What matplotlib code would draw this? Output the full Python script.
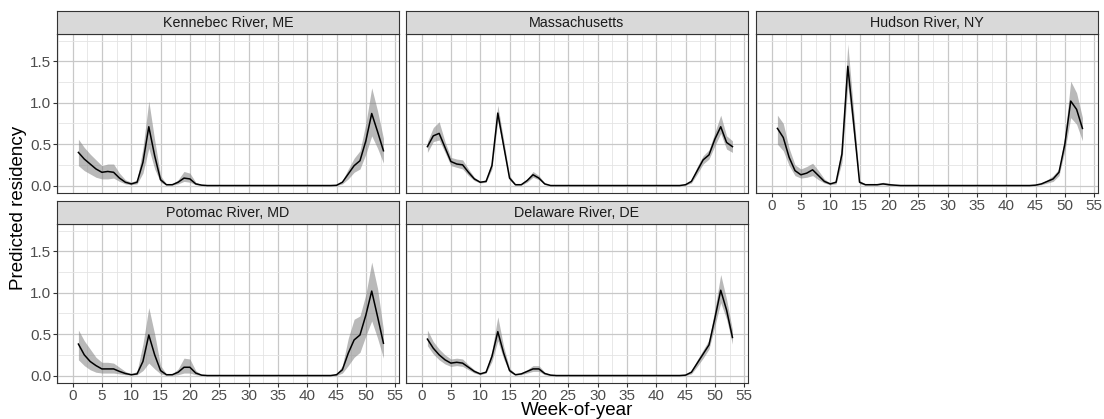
import matplotlib
matplotlib.use('Agg')
from matplotlib import pyplot as plt
from matplotlib.ticker import MultipleLocator

plt.rcParams['font.family'] = ['Liberation Sans', 'DejaVu Sans']

weeks = list(range(1, 54))

sites = ['Kennebec River, ME', 'Massachusetts', 'Hudson River, NY',
         'Potomac River, MD', 'Delaware River, DE']

# predicted residency, weeks 1-53
kennebec_fit = [0.40, 0.32, 0.26, 0.20, 0.16, 0.17, 0.16, 0.09, 0.04, 0.02, 0.04, 0.28, 0.71,
                0.36, 0.07, 0.01, 0.01, 0.04, 0.09, 0.08, 0.02, 0.005, 0.0, 0.0, 0.0, 0.0,
                0.0, 0.0, 0.0, 0.0, 0.0, 0.0, 0.0, 0.0, 0.0, 0.0, 0.0, 0.0, 0.0, 0.0,
                0.0, 0.0, 0.0, 0.0, 0.003, 0.04, 0.14, 0.24, 0.30, 0.54, 0.87, 0.65, 0.42]
kennebec_lo = [0.24, 0.18, 0.14, 0.10, 0.08, 0.08, 0.09, 0.05, 0.02, 0.01, 0.02, 0.15, 0.45,
               0.20, 0.04, 0.005, 0.005, 0.02, 0.05, 0.04, 0.01, 0.0, 0.0, 0.0, 0.0, 0.0,
               0.0, 0.0, 0.0, 0.0, 0.0, 0.0, 0.0, 0.0, 0.0, 0.0, 0.0, 0.0, 0.0, 0.0,
               0.0, 0.0, 0.0, 0.0, 0.0, 0.02, 0.08, 0.16, 0.20, 0.38, 0.60, 0.45, 0.27]
kennebec_hi = [0.56, 0.46, 0.38, 0.31, 0.24, 0.26, 0.26, 0.15, 0.07, 0.04, 0.07, 0.45, 1.02,
               0.55, 0.12, 0.02, 0.02, 0.07, 0.17, 0.15, 0.04, 0.01, 0.0, 0.0, 0.0, 0.0,
               0.0, 0.0, 0.0, 0.0, 0.0, 0.0, 0.0, 0.0, 0.0, 0.0, 0.0, 0.0, 0.0, 0.0,
               0.0, 0.0, 0.0, 0.0, 0.01, 0.06, 0.20, 0.33, 0.42, 0.75, 1.18, 0.90, 0.57]

mass_fit = [0.47, 0.60, 0.63, 0.46, 0.29, 0.26, 0.25, 0.16, 0.08, 0.04, 0.05, 0.24, 0.875,
            0.48, 0.09, 0.01, 0.01, 0.06, 0.13, 0.09, 0.02, 0.0, 0.0, 0.0, 0.0, 0.0,
            0.0, 0.0, 0.0, 0.0, 0.0, 0.0, 0.0, 0.0, 0.0, 0.0, 0.0, 0.0, 0.0, 0.0,
            0.0, 0.0, 0.0, 0.0, 0.01, 0.05, 0.18, 0.31, 0.37, 0.56, 0.71, 0.52, 0.47]
mass_lo = [0.40, 0.53, 0.55, 0.40, 0.24, 0.22, 0.20, 0.12, 0.06, 0.03, 0.04, 0.20, 0.78,
           0.42, 0.07, 0.005, 0.005, 0.04, 0.10, 0.07, 0.01, 0.0, 0.0, 0.0, 0.0, 0.0,
           0.0, 0.0, 0.0, 0.0, 0.0, 0.0, 0.0, 0.0, 0.0, 0.0, 0.0, 0.0, 0.0, 0.0,
           0.0, 0.0, 0.0, 0.0, 0.005, 0.03, 0.14, 0.26, 0.32, 0.48, 0.63, 0.44, 0.40]
mass_hi = [0.53, 0.70, 0.77, 0.53, 0.34, 0.32, 0.31, 0.20, 0.10, 0.05, 0.07, 0.30, 0.97,
           0.55, 0.12, 0.02, 0.02, 0.08, 0.17, 0.12, 0.03, 0.005, 0.0, 0.0, 0.0, 0.0,
           0.0, 0.0, 0.0, 0.0, 0.0, 0.0, 0.0, 0.0, 0.0, 0.0, 0.0, 0.0, 0.0, 0.0,
           0.0, 0.0, 0.0, 0.0, 0.015, 0.07, 0.23, 0.36, 0.43, 0.64, 0.85, 0.60, 0.54]

hudson_fit = [0.69, 0.58, 0.34, 0.18, 0.13, 0.15, 0.19, 0.12, 0.05, 0.02, 0.04, 0.38, 1.44,
              0.75, 0.04, 0.01, 0.01, 0.01, 0.02, 0.01, 0.005, 0.0, 0.0, 0.0, 0.0, 0.0,
              0.0, 0.0, 0.0, 0.0, 0.0, 0.0, 0.0, 0.0, 0.0, 0.0, 0.0, 0.0, 0.0, 0.0,
              0.0, 0.0, 0.0, 0.0, 0.005, 0.02, 0.05, 0.08, 0.16, 0.50, 1.02, 0.92, 0.69]
hudson_lo = [0.50, 0.42, 0.24, 0.12, 0.09, 0.10, 0.12, 0.07, 0.03, 0.01, 0.02, 0.28, 1.21,
             0.60, 0.02, 0.005, 0.005, 0.005, 0.01, 0.005, 0.0, 0.0, 0.0, 0.0, 0.0, 0.0,
             0.0, 0.0, 0.0, 0.0, 0.0, 0.0, 0.0, 0.0, 0.0, 0.0, 0.0, 0.0, 0.0, 0.0,
             0.0, 0.0, 0.0, 0.0, 0.0, 0.01, 0.03, 0.05, 0.12, 0.42, 0.82, 0.74, 0.54]
hudson_hi = [0.85, 0.75, 0.45, 0.25, 0.20, 0.23, 0.27, 0.18, 0.08, 0.03, 0.06, 0.50, 1.71,
             0.90, 0.06, 0.02, 0.02, 0.02, 0.04, 0.03, 0.01, 0.0, 0.0, 0.0, 0.0, 0.0,
             0.0, 0.0, 0.0, 0.0, 0.0, 0.0, 0.0, 0.0, 0.0, 0.0, 0.0, 0.0, 0.0, 0.0,
             0.0, 0.0, 0.0, 0.0, 0.01, 0.03, 0.07, 0.12, 0.20, 0.60, 1.26, 1.12, 0.82]

potomac_fit = [0.38, 0.25, 0.17, 0.12, 0.08, 0.08, 0.08, 0.05, 0.025, 0.01, 0.02, 0.17, 0.49,
               0.25, 0.06, 0.01, 0.01, 0.04, 0.10, 0.10, 0.03, 0.005, 0.0, 0.0, 0.0, 0.0,
               0.0, 0.0, 0.0, 0.0, 0.0, 0.0, 0.0, 0.0, 0.0, 0.0, 0.0, 0.0, 0.0, 0.0,
               0.0, 0.0, 0.0, 0.0, 0.01, 0.07, 0.27, 0.43, 0.49, 0.73, 1.02, 0.71, 0.39]
potomac_lo = [0.19, 0.12, 0.07, 0.04, 0.03, 0.03, 0.03, 0.02, 0.01, 0.005, 0.01, 0.06, 0.15,
              0.08, 0.02, 0.003, 0.003, 0.01, 0.03, 0.03, 0.01, 0.0, 0.0, 0.0, 0.0, 0.0,
              0.0, 0.0, 0.0, 0.0, 0.0, 0.0, 0.0, 0.0, 0.0, 0.0, 0.0, 0.0, 0.0, 0.0,
              0.0, 0.0, 0.0, 0.0, 0.0, 0.03, 0.12, 0.22, 0.28, 0.48, 0.66, 0.45, 0.21]
potomac_hi = [0.55, 0.42, 0.32, 0.22, 0.16, 0.16, 0.15, 0.10, 0.05, 0.02, 0.05, 0.38, 0.82,
              0.50, 0.12, 0.02, 0.02, 0.08, 0.21, 0.20, 0.06, 0.01, 0.0, 0.0, 0.0, 0.0,
              0.0, 0.0, 0.0, 0.0, 0.0, 0.0, 0.0, 0.0, 0.0, 0.0, 0.0, 0.0, 0.0, 0.0,
              0.0, 0.0, 0.0, 0.0, 0.02, 0.12, 0.45, 0.68, 0.72, 0.98, 1.37, 1.05, 0.55]

delaware_fit = [0.44, 0.33, 0.25, 0.19, 0.15, 0.16, 0.15, 0.10, 0.05, 0.02, 0.04, 0.23, 0.53,
                0.27, 0.06, 0.01, 0.02, 0.05, 0.08, 0.08, 0.025, 0.005, 0.0, 0.0, 0.0, 0.0,
                0.0, 0.0, 0.0, 0.0, 0.0, 0.0, 0.0, 0.0, 0.0, 0.0, 0.0, 0.0, 0.0, 0.0,
                0.0, 0.0, 0.0, 0.0, 0.005, 0.04, 0.15, 0.26, 0.37, 0.69, 1.03, 0.79, 0.46]
delaware_lo = [0.36, 0.26, 0.19, 0.14, 0.11, 0.12, 0.11, 0.07, 0.03, 0.01, 0.03, 0.17, 0.42,
               0.20, 0.04, 0.005, 0.01, 0.03, 0.05, 0.05, 0.01, 0.0, 0.0, 0.0, 0.0, 0.0,
               0.0, 0.0, 0.0, 0.0, 0.0, 0.0, 0.0, 0.0, 0.0, 0.0, 0.0, 0.0, 0.0, 0.0,
               0.0, 0.0, 0.0, 0.0, 0.0, 0.02, 0.11, 0.21, 0.32, 0.60, 0.88, 0.68, 0.38]
delaware_hi = [0.55, 0.41, 0.32, 0.25, 0.20, 0.21, 0.20, 0.13, 0.07, 0.03, 0.06, 0.30, 0.71,
               0.35, 0.09, 0.02, 0.03, 0.07, 0.12, 0.12, 0.04, 0.01, 0.0, 0.0, 0.0, 0.0,
               0.0, 0.0, 0.0, 0.0, 0.0, 0.0, 0.0, 0.0, 0.0, 0.0, 0.0, 0.0, 0.0, 0.0,
               0.0, 0.0, 0.0, 0.0, 0.01, 0.06, 0.19, 0.31, 0.43, 0.80, 1.22, 0.92, 0.55]

fits = [kennebec_fit, mass_fit, hudson_fit, potomac_fit, delaware_fit]
lows = [kennebec_lo, mass_lo, hudson_lo, potomac_lo, delaware_lo]
highs = [kennebec_hi, mass_hi, hudson_hi, potomac_hi, delaware_hi]

x_ticks = [0, 5, 10, 15, 20, 25, 30, 35, 40, 45, 50, 55]
y_ticks = [0.0, 0.5, 1.0, 1.5]

W, H = 1104, 419
fig = plt.figure(figsize=(W / 100, H / 100), dpi=100)

col_left = [57, 406, 756]
col_w = 342
row_strip_top = [11, 201]
strip_h = 23
body_h = 159
dark = '#333333'

for i, name in enumerate(sites):
    r, c = divmod(i, 3)
    left = col_left[c] / W
    body_top = row_strip_top[r] + strip_h
    ax = fig.add_axes([left, 1 - (body_top + body_h) / H, col_w / W, body_h / H])
    st = fig.add_axes([left, 1 - body_top / H, col_w / W, strip_h / H])

    ax.fill_between(weeks, lows[i], highs[i], color='grey', alpha=0.55, linewidth=0)
    ax.plot(weeks, fits[i], '-', color='k', linewidth=1.1)

    ax.set_xlim(-2.65, 55.65)
    ax.set_ylim(-0.09, 1.83)
    ax.xaxis.set_minor_locator(MultipleLocator(2.5))
    ax.yaxis.set_minor_locator(MultipleLocator(0.25))
    ax.set_xticks(x_ticks)
    ax.set_yticks(y_ticks)
    ax.grid(which='major', color='#c8c8c8', linewidth=0.9)
    ax.grid(which='minor', color='#e4e4e4', linewidth=0.6)
    ax.set_axisbelow(True)
    for s in ax.spines.values():
        s.set_color(dark)
        s.set_linewidth(0.8)
    ax.tick_params(which='major', length=3, width=0.8, color=dark,
                   labelsize=11, labelcolor='#4d4d4d', pad=1)
    ax.tick_params(which='minor', length=0)

    if c == 0:
        ax.set_yticklabels(['0.0', '0.5', '1.0', '1.5'])
    else:
        ax.tick_params(axis='y', which='major', length=0, labelleft=False)
    if r == 1 or i == 2:
        ax.set_xticklabels([str(t) for t in x_ticks])
    else:
        ax.tick_params(axis='x', which='major', length=0, labelbottom=False)

    st.set_facecolor('#d9d9d9')
    st.set_xticks([])
    st.set_yticks([])
    for s in st.spines.values():
        s.set_color(dark)
        s.set_linewidth(0.8)
    st.text(0.5, 0.47, name, ha='center', va='center', fontsize=10.3,
            color='#1a1a1a', transform=st.transAxes)

fig.text(19 / W, 1 - 208 / H, 'Predicted residency', rotation=90,
         ha='center', va='center', fontsize=13.5)
fig.text(577 / W, 1 - 419 / H, 'Week-of-year', ha='center', va='bottom', fontsize=13.5)

fig.savefig('out.png', dpi=100)
